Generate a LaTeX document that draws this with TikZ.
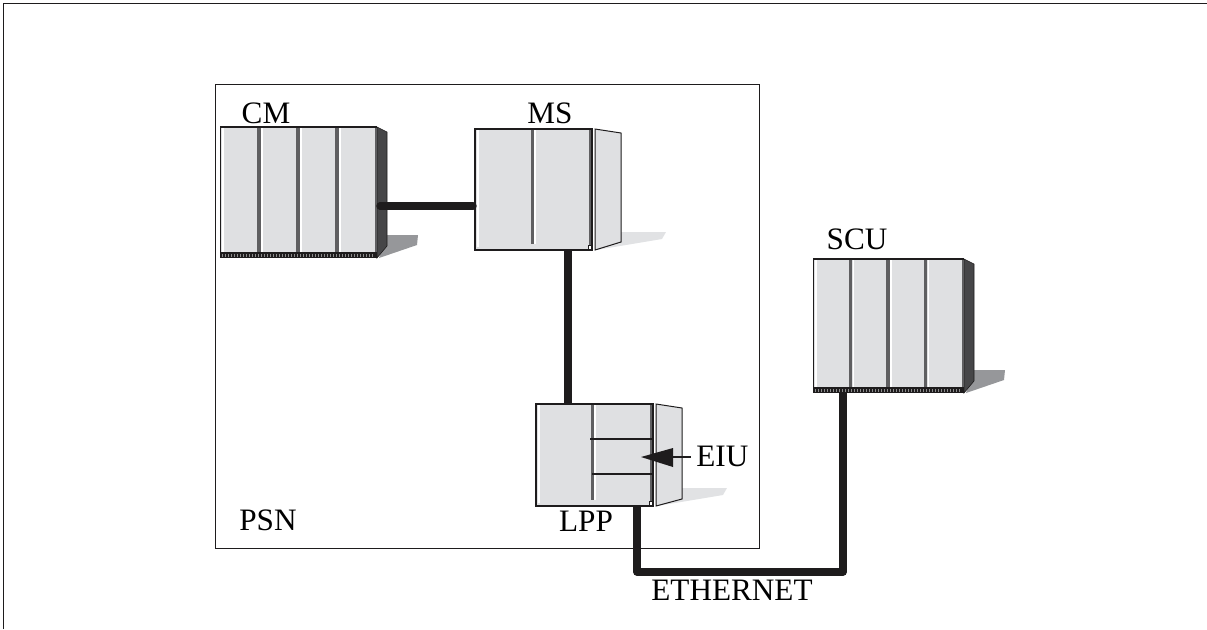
\documentclass[tikz,border=0pt]{standalone}
\usepackage{fontspec}
\setmainfont{Liberation Serif}
\usetikzlibrary{calc}
\definecolor{panel}{RGB}{223,224,226}
\definecolor{slot}{RGB}{95,95,97}
\definecolor{sidedark}{RGB}{70,70,72}
\definecolor{shadowdark}{RGB}{150,151,154}
\definecolor{shadowlight}{RGB}{225,226,228}
\definecolor{inkline}{RGB}{30,28,29}
\tikzset{
  cabinet/.style={draw=inkline,line width=0.5pt,fill=panel,inner sep=0pt,anchor=north west},
  link/.style={inkline,line width=3.7pt,line join=round},
  tag/.style={inner sep=0pt,font=\fontsize{15.6}{18}\selectfont},
}
% four bay rack, dark side and plinth
\newcommand{\rackfront}[3]{
  \fill[shadowdark] ($(#1.south east)+(10,-23)$) -- ($(#1.south east)+(41,-23)$) -- ($(#1.south east)+(40,-13)$) -- ($(#1.south east)+(2,0)$) -- cycle;
  \fill[sidedark,draw=inkline,line width=0.3pt] (#1.north east) -- ($(#1.north east)+(10,5)$) -- ($(#1.south east)+(10,-12)$) -- (#1.south east) -- cycle;
  \fill[inkline] (#1.south west) rectangle ($(#1.south east)+(0,-6)$);
  \foreach \i in {1,...,#3}
    \fill[black!45] ($(#1.south west)+(\i*3-1,-4.5)$) rectangle ++(1,3);
  \draw[inkline,line width=1pt] (#1.north west) -- (#1.north east);
  \foreach \i in {1,2,3}
    \draw[slot,line width=1.8pt] ($(#1.north west)+(\i*#2,0.5)$) -- ($(#1.south west)+(\i*#2,-6)$);
  \foreach \i in {0,...,3}
    \draw[white,line width=0.7pt] ($(#1.north west)+(\i*#2+3,1)$) -- ($(#1.south west)+(\i*#2+3,-6)$);
  \draw[slot,line width=0.8pt] ($(#1.north east)+(-1,1)$) -- ($(#1.south east)+(-1,-6)$);
}
% two bay unit, open side and pale shadow
\newcommand{\bayfront}[3]{
  \fill[shadowlight] ($(#1.south east)+(29,-18)$) -- ($(#1.south east)+(74,-18)$) -- ($(#1.south east)+(70,-11)$) -- ($(#1.south east)+(4,0)$) -- cycle;
  \draw[inkline,fill=panel,line width=0.5pt] ($(#1.north east)+(3,0)$) -- ($(#1.north east)+(29,4)$) -- ($(#1.south east)+(29,-#2)$) -- ($(#1.south east)+(3,0)$) -- cycle;
  \draw[slot,line width=1.5pt] ($(#1.north west)+(#3,0)$) -- ($(#1.south west)+(#3,-6)$);
  \draw[white,line width=0.7pt] ($(#1.north west)+(#3+3,0.5)$) -- ($(#1.south west)+(#3+3,-6)$);
  \draw[white,line width=0.7pt] ($(#1.north west)+(3,0.5)$) -- ($(#1.south west)+(3,-3)$);
  \draw[slot,line width=1pt] ($(#1.north east)+(-2.5,0)$) -- ($(#1.south east)+(-2.5,-5)$);
  \draw[inkline,fill=white,line width=0.4pt] ($(#1.south east)+(-4,-5)$) rectangle (#1.south east);
  \draw[inkline,line width=0.8pt] (#1.north west) rectangle (#1.south east);
}
\begin{document}
\begin{tikzpicture}[x=0.5pt,y=-0.5pt]
  \useasboundingbox (0,0) rectangle (1207,629);

  % Outer frame
  \draw[inkline,line width=0.7pt] (3.5,629) -- (3.5,3.5) -- (1207,3.5);

  % PSN box
  \node[draw=inkline,line width=0.5pt,inner sep=0pt,minimum width=272pt,minimum height=232pt,anchor=north west] (PSN) at (215,84) {};

  % Racks
  \node[cabinet,minimum width=78pt,minimum height=65pt] (CM) at (220,127) {};
  \rackfront{CM}{39}{51}
  \node[cabinet,minimum width=75pt,minimum height=66.5pt] (SCU) at (813,259) {};
  \rackfront{SCU}{37.5}{49}

  % Bay units
  \node[cabinet,minimum width=58pt,minimum height=60pt] (MS) at (475,129) {};
  \bayfront{MS}{8}{57}
  \node[cabinet,minimum width=58pt,minimum height=50.5pt] (LPP) at (536,404) {};
  \bayfront{LPP}{7}{56}

  % Ports on the units
  \coordinate (cmport) at (380,206);
  \coordinate (msleft) at (473,206);
  \coordinate (msport) at (568,249);
  \coordinate (lpptop) at (568,404);
  \coordinate (lppport) at (637,505);
  \coordinate (scuport) at (843,392);
  \coordinate (etherleft) at (637,572);
  \coordinate (etherright) at (843,572);

  % Cables
  \draw[link,line cap=round] (cmport) -- (msleft);
  \draw[link] (msport) -- (lpptop);
  \draw[link] (lppport) -- (etherleft) -- (etherright) -- (scuport);

  % EIU bars and pointer
  \coordinate (baronel) at (590,439);
  \coordinate (baroner) at (652,439);
  \coordinate (bartwol) at (592,474);
  \coordinate (bartwor) at (652,474);
  \draw[inkline,line width=1.3pt] (baronel) -- (baroner);
  \draw[inkline,line width=1.3pt] (bartwol) -- (bartwor);
  \node[tag,anchor=base west] (EIU) at (696,466) {EIU};
  \coordinate (eiutip) at (641,457);
  \coordinate (eiubase) at (672,457);
  \coordinate (eiuend) at (691,457);
  \fill[inkline] (eiutip) -- (673,448) -- (673,467) -- cycle;
  \draw[inkline,line width=0.6pt] (eiubase) -- (eiuend);

  % Labels
  \node[tag,anchor=base] (cmlabel) at (266,123) {CM};
  \node[tag,anchor=base] (mslabel) at (550,123) {MS};
  \node[tag,anchor=base] (sculabel) at (857,249) {SCU};
  \node[tag,anchor=base] (lpplabel) at (586,531) {LPP};
  \node[tag,anchor=base] (psnlabel) at (268,530) {PSN};
  \node[tag,anchor=base] (etherlabel) at (732,600) {ETHERNET};
\end{tikzpicture}
\end{document}
